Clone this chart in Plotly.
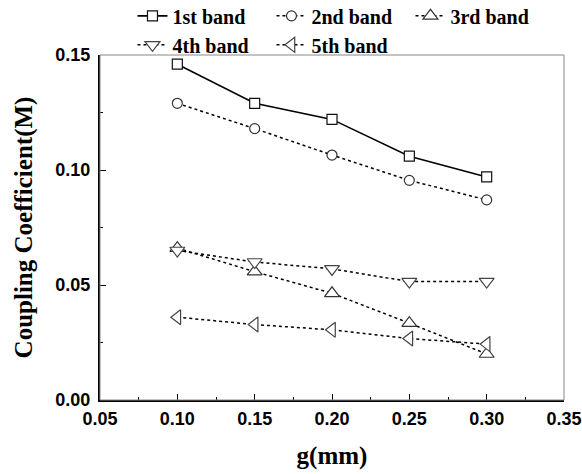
import plotly.graph_objects as go

g_mm = [0.10, 0.15, 0.20, 0.25, 0.30]
band1 = [0.146, 0.129, 0.122, 0.106, 0.097]
band2 = [0.129, 0.118, 0.1065, 0.0955, 0.087]
band3 = [0.066, 0.0558, 0.0464, 0.0334, 0.020]
band4 = [0.065, 0.060, 0.057, 0.0515, 0.0515]
band5 = [0.036, 0.0328, 0.0305, 0.0267, 0.0243]

names = ["1st band", "2nd band", "3rd band", "4th band", "5th band"]
series = [band1, band2, band3, band4, band5]
symbols = ["square", "circle", "triangle-up", "triangle-down", "triangle-left"]
sizes = [10, 10, 13, 13, 13]
dashes = ["solid", "3px,3px", "3px,3px", "3px,3px", "3px,3px"]
mcolors = ["#111111", "#333333", "#333333", "#444444", "#444444"]

fig = go.Figure()
for n, s, sym, sz, d, mc in zip(names, series, symbols, sizes, dashes, mcolors):
    fig.add_trace(go.Scatter(
        x=g_mm, y=s, name=n, mode="lines+markers",
        line=dict(color="black", width=1.6 if d == "solid" else 1.5, dash=d),
        marker=dict(symbol=sym, size=sz, color="white",
                    line=dict(color=mc, width=1.2)),
    ))

fig.add_shape(type="rect", xref="paper", yref="paper", x0=0, y0=0, x1=1, y1=1,
              line=dict(color="#888888", width=1), layer="above")

tickfont = dict(family="Liberation Sans", size=18, color="black", weight="bold")
titlefont = dict(family="Liberation Serif", size=25, color="black", weight="bold")

fig.update_xaxes(range=[0.05, 0.35], dtick=0.05, tickformat=".2f",
                 ticks="inside", ticklen=6, tickcolor="black", tickwidth=1,
                 minor=dict(dtick=0.025, ticks="inside", ticklen=3, tickcolor="black"),
                 showline=True, linecolor="black", linewidth=2,
                 showgrid=False, zeroline=False, tickfont=tickfont,
                 ticklabelstandoff=1, automargin=False,
                 title=dict(text="g(mm)", font=titlefont, standoff=19))
fig.update_yaxes(range=[0, 0.15], dtick=0.05, tickformat=".2f",
                 ticks="inside", ticklen=6, tickcolor="black", tickwidth=1,
                 minor=dict(dtick=0.025, ticks="inside", ticklen=3, tickcolor="black"),
                 showline=True, linecolor="black", linewidth=2,
                 showgrid=False, zeroline=False, tickfont=tickfont,
                 ticklabelstandoff=4, automargin=False,
                 title=dict(text="Coupling Coefficient(M)", font=titlefont, standoff=16))

fig.update_layout(
    width=582, height=474,
    margin=dict(l=100, r=18, t=55, b=74, autoexpand=False),
    plot_bgcolor="white", paper_bgcolor="white",
    legend=dict(orientation="h", xref="paper", yref="paper",
                x=0.07, y=1.17, xanchor="left", yanchor="top",
                entrywidth=94, entrywidthmode="pixels",
                font=dict(family="Liberation Serif", size=20, color="black", weight="bold"),
                tracegroupgap=0, itemsizing="trace", bgcolor="rgba(0,0,0,0)"),
)

fig.write_html("out.html")
